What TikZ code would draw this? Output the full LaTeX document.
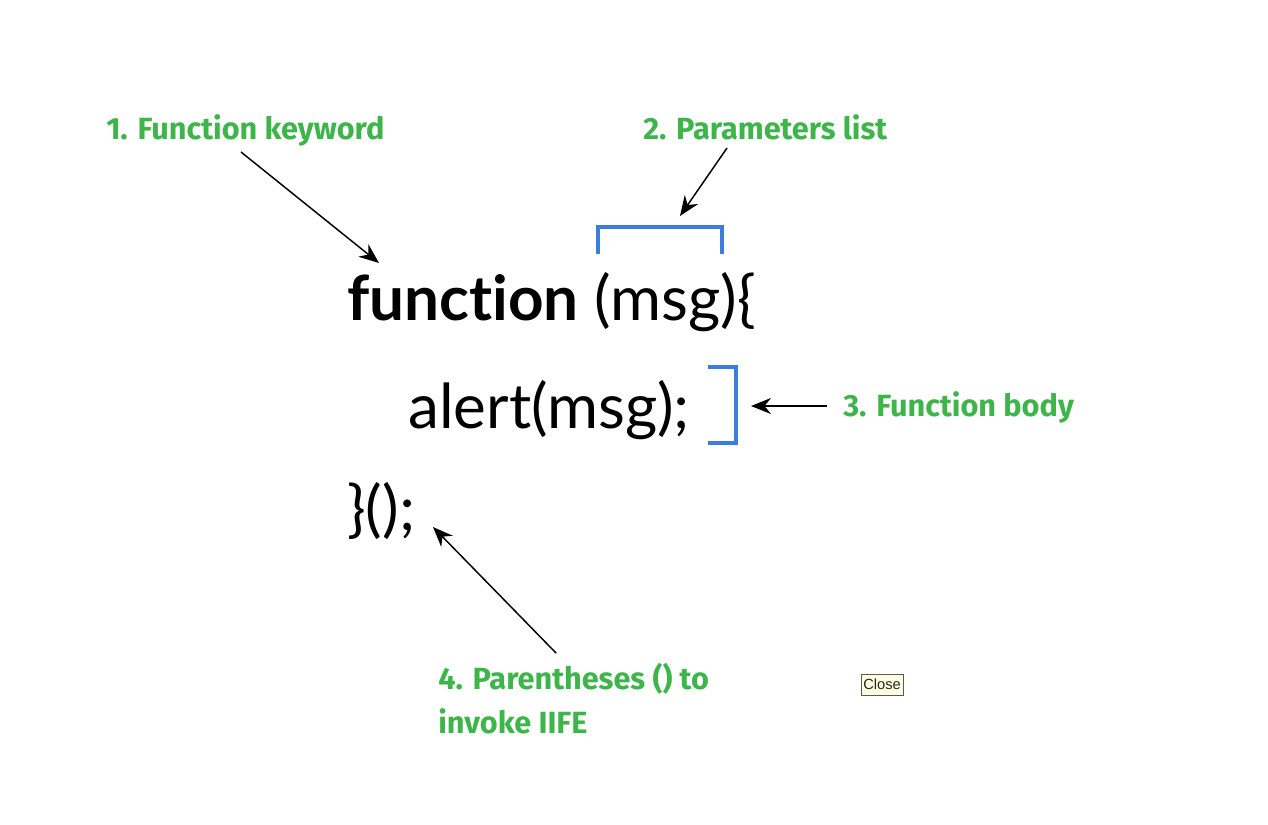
\documentclass[tikz,border=0pt]{standalone}
\usepackage{fontspec}
\setmainfont{Lato}
\newfontfamily\labfont{Fira Sans}
\newfontfamily\codefont[Ligatures={NoCommon}]{Lato}
\newfontfamily\uifont{Liberation Sans}
\usetikzlibrary{arrows.meta}
\definecolor{labgreen}{HTML}{3DB54A}
\definecolor{brblue}{HTML}{3B7DDD}
\definecolor{tipbg}{HTML}{FFFFE1}
\begin{document}
\begin{tikzpicture}[x=0.75pt,y=-0.75pt,
  lab/.style={anchor=base west,inner sep=0,text=labgreen,font=\labfont\bfseries\fontsize{23}{30}\selectfont},
  code/.style={anchor=base west,inner sep=0,font=\codefont\fontsize{46.5}{56}\selectfont},
  pointer/.style={-{Stealth[length=15pt,width=12pt]},line width=1.1pt},
  bracket/.style={draw=brblue,line width=3pt,line cap=butt,line join=miter}]
\useasboundingbox[fill=white] (0,0) rectangle (1268,825);
% labels
\node[lab] (l1) at (106,139) {1. Function keyword};
\node[lab] (l2) at (643,139) {2. Parameters list};
\node[lab] (l3) at (843,416) {3. Function body};
\node[lab,align=left,anchor=north west] (l4) at (438,663) {4. Parentheses () to\\[3pt]invoke IIFE};
% code
\node[code] (c1) at (347,320) {\textbf{function} (msg)\{};
\node[code] (c2) at (408,428) {alert(msg);};
\node[code] (c3) at (347,530) {\}();};
% brackets
\coordinate (b1a) at (598,254); \coordinate (b1b) at (598,227);
\coordinate (b1c) at (722,227); \coordinate (b1d) at (722,254);
\draw[bracket] (b1a) -- (b1b) -- (b1c) -- (b1d);
\coordinate (b2a) at (708,367); \coordinate (b2b) at (736,367);
\coordinate (b2c) at (736,443); \coordinate (b2d) at (708,443);
\draw[bracket] (b2a) -- (b2b) -- (b2c) -- (b2d);
% arrows
\coordinate (a1s) at (241,152); \coordinate (a1e) at (379,263);
\coordinate (a2s) at (727,148); \coordinate (a2e) at (680,216);
\coordinate (a3s) at (827,406); \coordinate (a3e) at (751,406);
\coordinate (a4s) at (556,653); \coordinate (a4e) at (433,527);
\draw[pointer] (a1s) -- (a1e);
\draw[pointer] (a2s) -- (a2e);
\draw[pointer] (a3s) -- (a3e);
\draw[pointer] (a4s) -- (a4e);
% close tooltip
\node[draw=black!65,fill=tipbg,line width=0.75pt,inner sep=1.5pt,minimum width=31.5pt,minimum height=15.75pt,font=\uifont\fontsize{11}{13}\selectfont,text=black!85] (close) at (882,684.5) {Close};
\end{tikzpicture}
\end{document}
